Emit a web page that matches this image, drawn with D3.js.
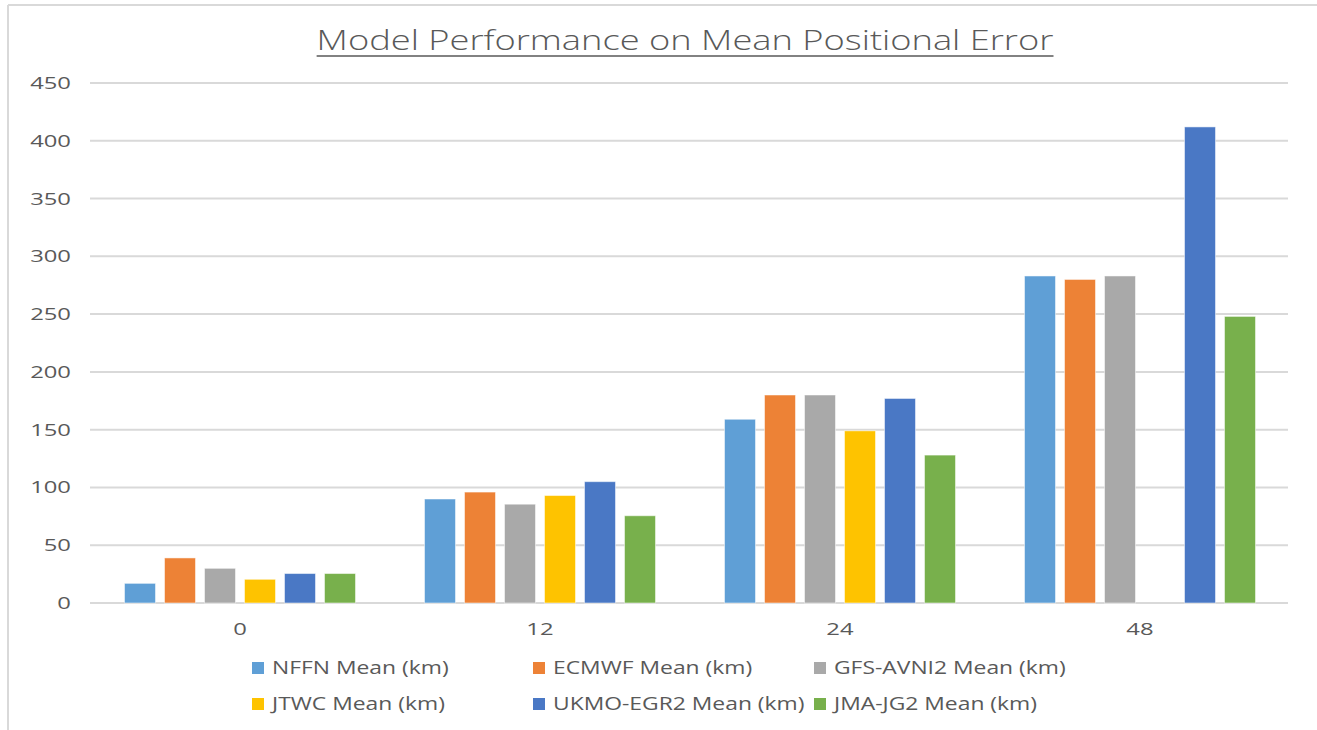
<!DOCTYPE html>
<html>
<head>
<meta charset="utf-8">
<script src="https://cdn.jsdelivr.net/npm/d3@7"></script>
<style>
  body { margin: 0; background: #fff; }
  text { font-family: 'Open Sans', sans-serif; fill: #595959; }
</style>
</head>
<body>
<svg id="chart" width="1317" height="730"></svg>
<script>
// lead times (hours) on the x axis
const leadTimes = ['0', '12', '24', '48']
const seriesNames = ['NFFN Mean (km)', 'ECMWF Mean (km)', 'GFS-AVNI2 Mean (km)', 'JTWC Mean (km)', 'UKMO-EGR2 Mean (km)', 'JMA-JG2 Mean (km)']
const seriesColors = ['#5f9fd6', '#ed8236', '#a9a9a9', '#fec300', '#4a78c5', '#78b04c']

// mean positional error (km) per model
const nffn = [17, 90, 159, 283]
const ecmwf = [39, 96, 180, 280]
const gfs = [30, 85.5, 180, 283]
const jtwc = [20.5, 93, 149, null]
const ukmo = [25.5, 105, 177, 412]
const jma = [25.5, 75.5, 128, 248]
const allSeries = [nffn, ecmwf, gfs, jtwc, ukmo, jma]

const yTicks = [0, 50, 100, 150, 200, 250, 300, 350, 400, 450]

const svg = d3.select('#chart')

// the source picture is widened, so text gets stretched sideways
function stretch(sel, k) {
  sel.each(function () {
    let w = this.getComputedTextLength()
    this.setAttribute('textLength', w * k)
    this.setAttribute('lengthAdjust', 'spacingAndGlyphs')
  })
}

// frame
svg.append('line').attr('x1', 8).attr('x2', 1317).attr('y1', 5).attr('y2', 5)
  .attr('stroke', '#d9d9d9').attr('stroke-width', 2)
svg.append('line').attr('x1', 8).attr('x2', 8).attr('y1', 5).attr('y2', 730)
  .attr('stroke', '#d9d9d9').attr('stroke-width', 2)

// scales
let x0 = d3.scaleBand().domain(leadTimes).range([90, 1290]).paddingInner(0).paddingOuter(0)
let x1 = d3.scaleBand().domain(d3.range(seriesNames.length)).range([30, 270]).paddingInner(0.225).paddingOuter(0.1125)
let y = d3.scaleLinear().domain([0, 450]).range([603, 83])

// gridlines
svg.append('g')
  .selectAll('line')
  .data(yTicks)
  .enter()
  .append('line')
  .attr('x1', 90)
  .attr('x2', 1288)
  .attr('y1', (d) => y(d))
  .attr('y2', (d) => y(d))
  .attr('stroke', '#d9d9d9')
  .attr('stroke-width', 2)

// y labels
let yLab = svg.append('g')
  .selectAll('text')
  .data(yTicks)
  .enter()
  .append('text')
  .attr('x', 71)
  .attr('y', (d) => y(d) + 6)
  .attr('text-anchor', 'end')
  .style('font-size', '17px')
  .text((d) => d)
stretch(yLab, 1.4)

// bars
leadTimes.forEach((lt, i) => {
  let g = svg.append('g').attr('transform', `translate(${x0(lt)},0)`)
  allSeries.forEach((s, j) => {
    if (s[i] == null) return
    g.append('rect')
      .attr('x', x1(j))
      .attr('width', x1.bandwidth())
      .attr('y', y(s[i]))
      .attr('height', y(0) - y(s[i]))
      .attr('fill', seriesColors[j])
      .attr('stroke', '#ffffff')
      .attr('stroke-opacity', 0.5)
      .attr('stroke-width', 1)
  })
})

// x labels
let xLab = svg.append('g')
  .selectAll('text')
  .data(leadTimes)
  .enter()
  .append('text')
  .attr('x', (d) => x0(d) + x0.bandwidth() / 2)
  .attr('y', 635)
  .attr('text-anchor', 'middle')
  .style('font-size', '17px')
  .text((d) => d)
stretch(xLab, 1.4)

// title
let title = svg.append('text')
  .attr('x', 685)
  .attr('y', 50)
  .attr('text-anchor', 'middle')
  .style('font-size', '28px')
  .style('font-weight', 300)
  .text('Model Performance on Mean Positional Error')
stretch(title, 1.295)
let tb = title.node().getBBox()
svg.append('line')
  .attr('x1', tb.x).attr('x2', tb.x + tb.width)
  .attr('y1', 56).attr('y2', 56)
  .attr('stroke', '#595959').attr('stroke-width', 1.5)

// legend
const legendCols = [252, 533, 814]
const legendRows = [668, 704]
seriesNames.forEach((name, j) => {
  let lx = legendCols[j % 3]
  let ly = legendRows[Math.floor(j / 3)]
  svg.append('rect')
    .attr('x', lx).attr('y', ly - 6)
    .attr('width', 12).attr('height', 12)
    .attr('fill', seriesColors[j])
  let t = svg.append('text')
    .attr('x', lx + 20)
    .attr('y', ly + 6)
    .style('font-size', '18px')
    .text(name)
  stretch(t, 1.27)
})
</script>
</body>
</html>
